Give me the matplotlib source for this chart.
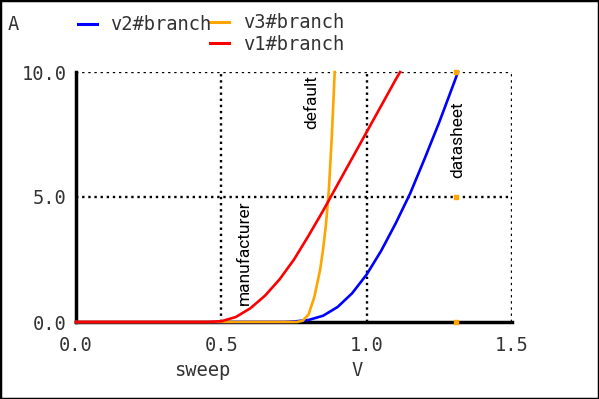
import matplotlib
matplotlib.use("Agg")
import matplotlib.pyplot as plt
from matplotlib.lines import Line2D
from matplotlib.patches import Rectangle

# ---- data ----
v1_sweep = [0.0, 0.45, 0.5, 0.55, 0.6, 0.65, 0.7, 0.75, 0.8, 0.85, 0.9, 0.95, 1.0, 1.05, 1.1, 1.115]
v1_branch = [0.0, 0.0, 0.03, 0.2, 0.55, 1.05, 1.7, 2.5, 3.45, 4.45, 5.5, 6.55, 7.6, 8.65, 9.7, 10.0]

v2_sweep = [0.0, 0.72, 0.75, 0.8, 0.85, 0.9, 0.95, 1.0, 1.05, 1.1, 1.15, 1.2, 1.25, 1.3, 1.314]
v2_branch = [0.0, 0.0, 0.02, 0.08, 0.25, 0.6, 1.15, 1.9, 2.85, 3.95, 5.15, 6.55, 8.0, 9.55, 10.0]

v3_sweep = [0.0, 0.76, 0.78, 0.8, 0.82, 0.84, 0.85, 0.86, 0.87, 0.88, 0.89]
v3_branch = [0.0, 0.0, 0.05, 0.3, 1.0, 2.1, 2.9, 3.9, 5.3, 7.4, 10.0]

marker_x = [1.307, 1.307, 1.307]
marker_y = [0.0, 5.0, 10.0]

x_ticks = [0.0, 0.5, 1.0, 1.5]
x_tick_labels = ["0.0", "0.5", "1.0", "1.5"]
y_ticks = [0.0, 5.0, 10.0]
y_tick_labels = ["0.0", "5.0", "10.0"]

annotations = [("default", 0.812, 8.8), ("datasheet", 1.314, 7.28), ("manufacturer", 0.578, 2.76)]

# ---- figure ----
W, H = 599, 399
fig = plt.figure(figsize=(W / 100, H / 100), dpi=100)
fig.patches.append(Rectangle((0, 0), 1, 1, transform=fig.transFigure, fill=False,
                             edgecolor="black", linewidth=2.5, zorder=10))

ax = fig.add_axes([76 / W, 1 - 322 / H, (512 - 76) / W, (322 - 72) / H])
ax.set_xlim(0, 1.5)
ax.set_ylim(0, 10)

mono = "DejaVu Sans Mono"
fs = 13.5
tc = "#333333"

for s in ["top", "right"]:
    ax.spines[s].set_visible(False)
ax.spines["left"].set_linewidth(2.5)
ax.spines["bottom"].set_linewidth(2.5)
ax.spines["left"].set_zorder(1)
ax.spines["bottom"].set_zorder(1)

ax.set_xticks(x_ticks)
ax.set_xticklabels(x_tick_labels, fontfamily=mono, fontsize=fs, color=tc)
ax.set_yticks(y_ticks)
ax.set_yticklabels(y_tick_labels, fontfamily=mono, fontsize=fs, color=tc)
ax.tick_params(axis="y", length=0, pad=7)
ax.tick_params(axis="x", length=0, pad=10)

for gx in x_ticks[1:]:
    ax.axvline(gx, color="black", linestyle=(0, (1, 1.6)), linewidth=1.7, zorder=0.5)
for gy in y_ticks[1:]:
    ax.axhline(gy, color="black", linestyle=(0, (1, 1.6)), linewidth=1.7, zorder=0.5)

ax.plot(v2_sweep, v2_branch, color="#0000ff", linewidth=1.9, zorder=3, clip_on=False)
ax.plot(v3_sweep, v3_branch, color="#ffa500", linewidth=1.9, zorder=3.5, clip_on=False)
ax.plot(v1_sweep, v1_branch, color="#ff0000", linewidth=1.9, zorder=4, clip_on=False)
ax.scatter(marker_x, marker_y, color="#ffa500", marker="s", s=5, zorder=5, clip_on=False)

for txt, x, y in annotations:
    ax.text(x, y, txt, rotation=90, ha="center", va="center", fontsize=12.5,
            fontfamily="Roboto", color="black", zorder=6)

# legend / labels as figure text
fig.text(8 / W, 1 - 25 / H, "A", fontfamily=mono, fontsize=fs, va="center", ha="left", color=tc)
legend = [("v2#branch", "#0000ff", 78, 110, 24), ("v3#branch", "#ffa500", 210, 243, 22),
          ("v1#branch", "#ff0000", 210, 243, 43)]
for label, col, lx, tx, ly in legend:
    fig.add_artist(Line2D([lx / W, (lx + 19) / W], [1 - ly / H, 1 - ly / H], color=col,
                          linewidth=2.2, transform=fig.transFigure))
    fig.text(tx / W, 1 - (ly + 1) / H, label, fontfamily=mono, fontsize=fs, va="center",
             ha="left", color=tc)

fig.text(202 / W, 1 - 370 / H, "sweep", fontfamily=mono, fontsize=fs, va="center", ha="center", color=tc)
fig.text(357 / W, 1 - 370 / H, "V", fontfamily=mono, fontsize=fs, va="center", ha="center", color=tc)

fig.savefig("out.png", dpi=100)
